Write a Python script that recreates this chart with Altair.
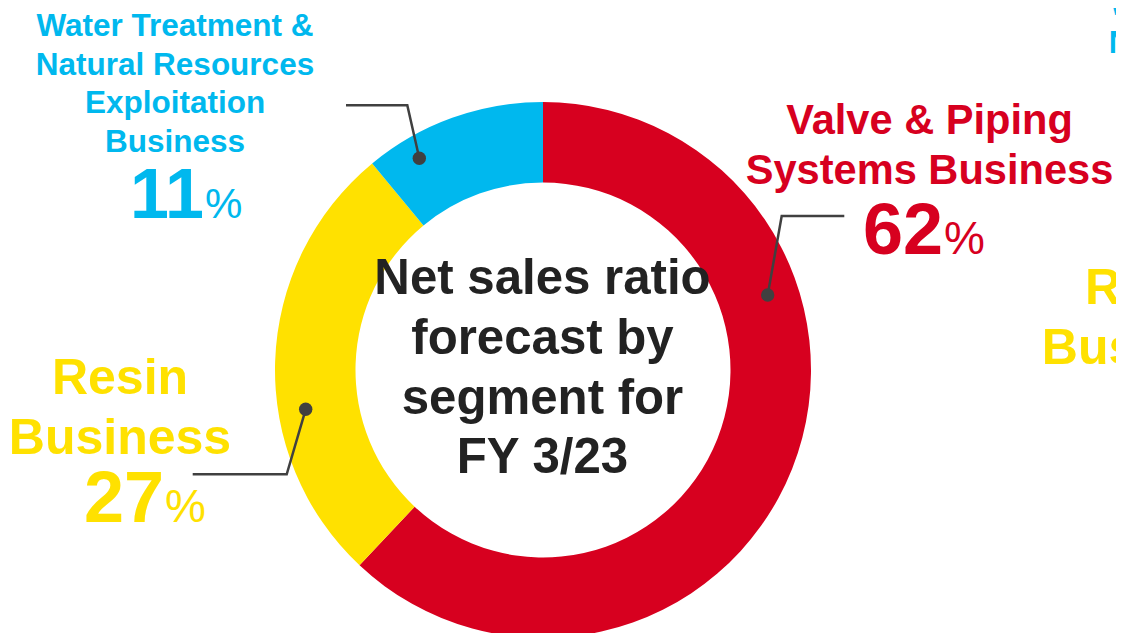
import altair as alt
import pandas as pd

# ---------------- data ----------------
segments = [
    "Valve & Piping Systems Business",
    "Resin Business",
    "Water Treatment & Natural Resources Exploitation Business",
]
shares = [62, 27, 11]
colors = ["#D7001F", "#FFE100", "#00B8EE"]
label_lines = [
    ["Valve & Piping", "Systems Business"],
    ["Resin", "Business"],
    ["Water Treatment &", "Natural Resources", "Exploitation", "Business"],
]
center_title = ["Net sales ratio", "forecast by", "segment for", "FY 3/23"]
# labels of the neighbouring panel, cut off by the right edge
neighbour_blue = ["Water Treatment &", "Natural Resources"]
neighbour_yellow = ["Resin", "Business"]

# ---------------- layout ----------------
W, H = 1108, 625
CX, CY = 535, 362
FONT = "Liberation Sans"
DARK = "#404040"

df = pd.DataFrame({"segment": segments, "share": shares, "ord": [0, 1, 2]})

donut = alt.Chart(df).mark_arc(outerRadius=268, innerRadius=187.5).encode(
    theta=alt.Theta("share:Q", stack=True),
    color=alt.Color("segment:N", scale=alt.Scale(domain=segments, range=colors), legend=None),
    order=alt.Order("ord:Q"),
    x=alt.value(CX),
    y=alt.value(CY),
)

layers = [donut]


def txt(text, x, y, size, color, weight="bold", align="center"):
    return alt.Chart(pd.DataFrame({"t": [text]})).mark_text(
        font=FONT, fontSize=size, fontWeight=weight, color=color,
        align=align, baseline="alphabetic",
    ).encode(text="t:N", x=alt.value(x), y=alt.value(y))


# segment labels: (center x, first baseline, line step, font size)
label_layout = [
    (921.5, 126.3, 50, 41.6),
    (112, 386.3, 59.7, 50),
    (167, 28, 38.6, 31.5),
]
# percentage: (anchor x, baseline, digit size, percent size)
pct_layout = [
    (935, 246, 72, 46),
    (156, 513.7, 72, 46),
    (196, 210.3, 70, 42),
]
for lines, col, (lx, ly, step, fs), (px, py, ds, ps), v in zip(
        label_lines, colors, label_layout, pct_layout, shares):
    for i, line in enumerate(lines):
        layers.append(txt(line, lx, ly + i * step, fs, col))
    layers.append(txt(str(v), px, py, ds, col, align="right"))
    layers.append(txt("%", px + 1, py, ps, col, weight="normal", align="left"))

# center title
for i, line in enumerate(center_title):
    layers.append(txt(line, 534.5, 286.3 + i * 59.7, 49.2, "#222222"))

# neighbouring panel (cropped)
for i, line in enumerate(neighbour_blue):
    layers.append(txt(line, 1240, 7 + i * 38.4, 31.5, colors[2]))
for i, line in enumerate(neighbour_yellow):
    layers.append(txt(line, 1145, 296.3 + i * 60, 50, colors[1]))

# leader lines
leaders = [
    [(836.3, 208), (773.7, 208), (759.7, 287)],
    [(184.7, 466.3), (278.7, 466.3), (297.7, 401.3)],
    [(338, 97.3), (399.3, 97.3), (411.3, 150.3)],
]
rows = []
for k, pts in enumerate(leaders):
    for i, (px, py) in enumerate(pts):
        rows.append({"leader": k, "i": i, "px": px, "py": py})
ldf = pd.DataFrame(rows)
lines_layer = alt.Chart(ldf).mark_line(color=DARK, strokeWidth=2.5).encode(
    x=alt.X("px:Q", scale=None, axis=None),
    y=alt.Y("py:Q", scale=None, axis=None),
    detail="leader:N",
    order="i:Q",
)
dots_layer = alt.Chart(ldf[ldf["i"] == 2]).mark_circle(color=DARK, opacity=1, size=180).encode(
    x=alt.X("px:Q", scale=None, axis=None),
    y=alt.Y("py:Q", scale=None, axis=None),
)
layers += [lines_layer, dots_layer]

chart = alt.layer(*layers).properties(
    width=W, height=H,
    autosize=alt.AutoSizeParams(type="none"),
    padding=0,
    background="white",
).configure_view(strokeWidth=0)

chart.save("out.html", embed_options={"renderer": "svg", "actions": False})
